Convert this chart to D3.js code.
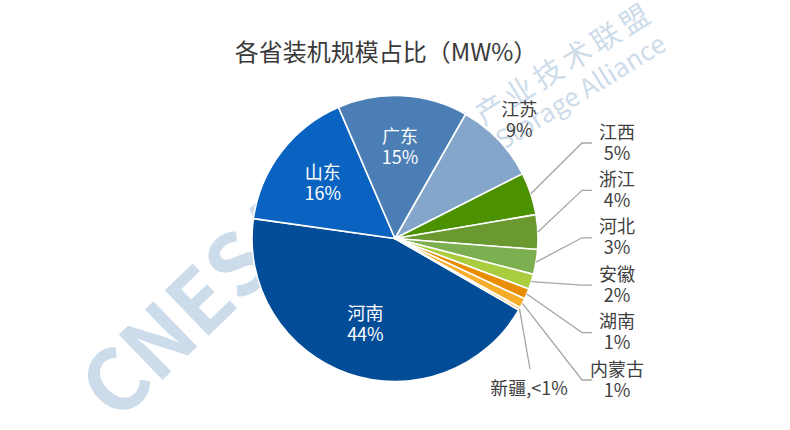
<!DOCTYPE html>
<html>
<head>
<meta charset="utf-8">
<script src="https://cdn.jsdelivr.net/npm/d3@7/dist/d3.min.js"></script>
<style>
  html, body { margin: 0; padding: 0; background: #fff; }
  svg { display: block; }
  text { font-family: "Noto Sans CJK SC", "Noto Sans", sans-serif; }
</style>
</head>
<body>
<svg id="chart" width="790" height="430"></svg>
<script>
// ---- data ----
const provinces = ["河南", "山东", "广东", "江苏", "江西", "浙江", "河北", "安徽", "湖南", "内蒙古", "新疆"];
const shares    = [43.9, 16.3, 14.7, 9.3, 4.8, 3.9, 2.8, 1.7, 1.2, 1.1, 0.3];
const colors    = ["#034c98", "#0a63c1", "#4a7eb4", "#84a6cb", "#4c9100", "#69992f",
                   "#7caf4f", "#a9cd3e", "#e88c00", "#f5ad2a", "#f5c86a"];
const title = "各省装机规模占比（MW%）";

// ---- layout ----
const svg = d3.select("#chart");
const W = 790, H = 430;
svg.append("rect").attr("width", W).attr("height", H).attr("fill", "#fff");

const cx = 395, cy = 238.5, R = 143;
const deg = Math.PI / 180;
const start = 120 * deg;

// watermark (behind pie)
const wm = svg.append("g").attr("fill", "#cddcea");
wm.append("text")
  .attr("transform", "translate(117,424) rotate(-44)")
  .attr("font-family", "Liberation Sans, Arial, sans-serif")
  .attr("font-weight", "bold")
  .attr("font-size", 85)
  .text("CNESA");
wm.append("text")
  .attr("transform", "translate(426,162) rotate(-32)")
  .attr("font-size", 29)
  .attr("letter-spacing", 5)
  .text("储能产业技术联盟");
wm.append("text")
  .attr("transform", "translate(668,49) rotate(-31.6)")
  .attr("text-anchor", "end")
  .attr("font-family", "Liberation Sans, Arial, sans-serif")
  .attr("font-size", 26)
  .text("China Energy Storage Alliance");

// title
svg.append("text")
  .attr("x", 386).attr("y", 61)
  .attr("text-anchor", "middle")
  .attr("font-size", 24)
  .attr("fill", "#3a3a3a")
  .text(title);

const pie = d3.pie().sort(null).value(d => d)
  .startAngle(start).endAngle(start + 2 * Math.PI);
const arcs = pie(shares);
const arc = d3.arc().innerRadius(0).outerRadius(R);

const g = svg.append("g").attr("transform", `translate(${cx},${cy})`);
g.selectAll("path.slice")
  .data(arcs)
  .join("path")
  .attr("class", "slice")
  .attr("d", arc)
  .attr("fill", (d, i) => colors[i])
  .attr("stroke", "#fff")
  .attr("stroke-width", 1.6)
  .attr("stroke-linejoin", "round");

const pctText = v => (v < 1 ? "<1%" : Math.round(v) + "%");
const fs = 18, lh = 21;
const midA = d => (d.startAngle + d.endAngle) / 2;
const polar = (a, r) => [Math.sin(a) * r, -Math.cos(a) * r];

function twoLine(sel, x, y, name, pct, fill) {
  const t = sel.append("text")
    .attr("text-anchor", "middle")
    .attr("font-size", fs)
    .attr("fill", fill);
  t.append("tspan").attr("x", x).attr("y", y - lh / 2 + 6).text(name);
  t.append("tspan").attr("x", x).attr("y", y + lh / 2 + 6).text(pct);
}

const labels = svg.append("g");
const leaders = svg.append("g").attr("fill", "none").attr("stroke", "#a6a6a6").attr("stroke-width", 1.3);

arcs.forEach((d, i) => {
  const name = provinces[i], pct = pctText(shares[i]);
  const a = midA(d);
  if (i < 3) {
    const [x, y] = polar(a, R * 0.635);
    twoLine(labels, cx + x, cy + y, name, pct, "#fff");
  } else if (i === 3) {
    const [x, y] = polar(a, R * 1.2);
    twoLine(labels, cx + x, cy + y, name, pct, "#404040");
  } else if (i < provinces.length - 1) {
    const k = i - 4;
    const ly = 143 + k * 47.4;
    const [sx, sy] = polar(a, R);
    leaders.append("path")
      .attr("d", d3.line()([[cx + sx, cy + sy], [582, ly], [592, ly]]));
    twoLine(labels, 617, ly, name, pct, "#404040");
  } else {
    const [sx, sy] = polar(a, R);
    leaders.append("path")
      .attr("d", d3.line()([[cx + sx, cy + sy], [530, 369]]));
    labels.append("text")
      .attr("x", 529).attr("y", 395)
      .attr("text-anchor", "middle")
      .attr("font-size", fs)
      .attr("fill", "#404040")
      .text(name + "," + pct);
  }
});
</script>
</body>
</html>
